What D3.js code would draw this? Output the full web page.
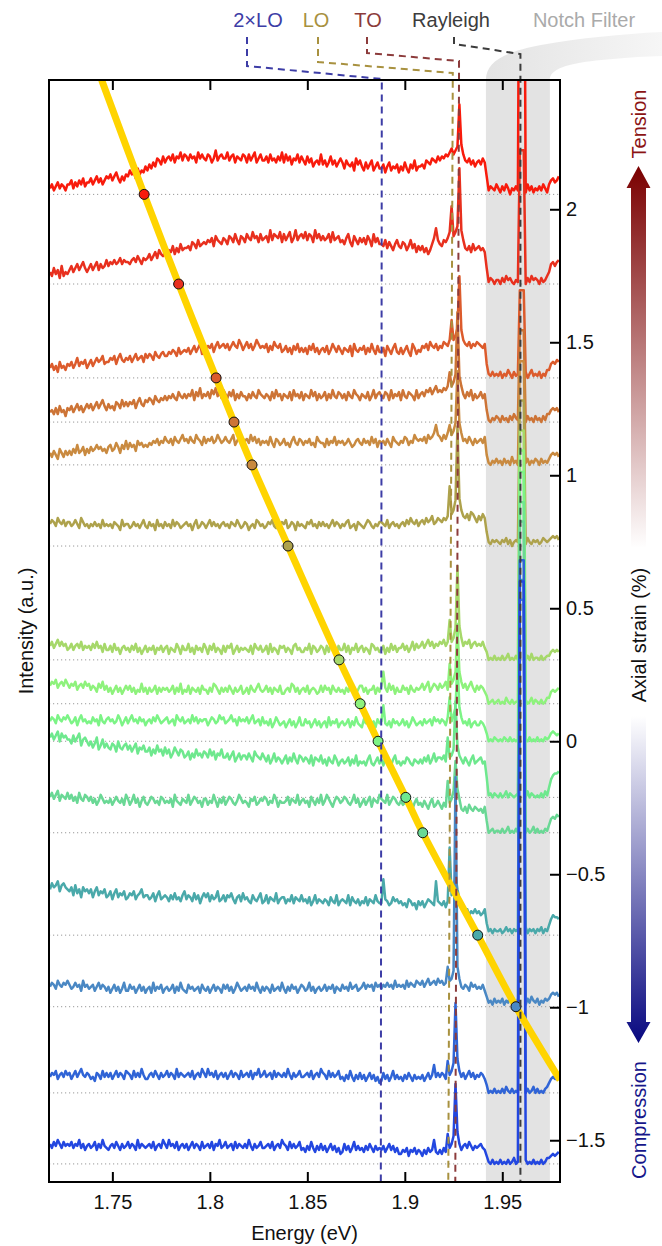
<!DOCTYPE html>
<html>
<head>
<meta charset="utf-8">
<title>Strain-tuned spectra</title>
<script src="https://cdn.jsdelivr.net/npm/d3@7/dist/d3.min.js"></script>
<style>
  body { margin: 0; background: #fff; }
  svg { display: block; font-family: "Liberation Sans", Arial, Helvetica, sans-serif; }
</style>
</head>
<body>
<svg width="662" height="1246"></svg>
<script>
// ---------- data ----------
var energyDomain = [1.7175, 1.9796];   // eV, left/right frame
var strainDomain = [-1.657, 2.486];    // %, bottom/top frame
var energyTicks = [1.75, 1.8, 1.85, 1.9, 1.95];
var strainTicks = [-1.5, -1, -0.5, 0, 0.5, 1, 1.5, 2];

var energyStart = 1.718;   // first sample of every spectrum
var energyStep = 0.001;    // eV between samples
var levelUnit = 0.0075;    // one level (base-36 char) of a spectrum, in axis units

// baseline of each spectrum = its axial strain
var strainOffsets = [2.056, 1.719, 1.366, 1.200, 1.039, 0.734, 0.306, 0.141, 0.000,
  -0.211, -0.344, -0.729, -0.998, -1.322, -1.589];
var spectrumColors = ["#f81b0c", "#e8301e", "#dc5b2c", "#cd7436", "#c98a40", "#aea24c",
  "#a6d86a", "#8ef27c", "#7cf486", "#6ee88e", "#6ad895", "#4aa9aa", "#4a88c4", "#3064d6", "#2347e0"];

// continuum + noise, one char per sample (groups of 10 samples = 0.01 eV)
var spectra = [
  "3524635425 5736475846 6857968579 8a79b8697a 9cab8dacbe cfdgeihfjg ijhkgjilhk jhkijgliki hkjgimhjki ilhjkgjihk jgkhjlgikh hjgkhigjhl gkhjfihkgj hfjgieghfk fhegjfhegi gdhfegcifh ecgdfhcegd dfbegcedfb ecgdbfdhce efdhgfihgj hjikjlnkmo upkhgifheg hfig924325 3142530324 2zz3152413 2425315786 79",
  "6485739465 7968a79b86 8a79b7a89c 9bacabdacb bacdbecadc dfcegdhfeg fhgjfigkhi ijhlkimjkl kmlnjomlkn mkonlpmkon lpnmqnolpm nolrmponql pmoqlnrmop nqmpolrnpm omnplqmnol mknpljomkn lnkomjplnk kjmiljhkmj ilkhjmikgj hjgifhknsm kjmlnqtoqt zrmihjgkhi jhig813202 2031423102 1zz2031423 2031246ab9 bc",
  "5746385647 6857a68795 7968a89b78 8a9b7ac98a 9b8ac9ab8c acb9dbacdb bdcedbfcde dfcegdfhce egfhdgifgh fhegigfjhe gifhegjhfg fhdgeigfhd egdfcgehdf dfcgehdfce fdgcehfdge cfedgbhedf egcfdhecgd dfbgecfhdc fcegdbhfce dgfheigfhe gfihgjsjlp zojhgifhgi hgfh721312 1302142031 2zz1302412 1302144787 98",
  "5647485637 6857968579 7968a79b86 9786a97b8a 8a9b7ac98b acb9dbacbd bdcecbfdce cedgbfdhce dfcgehdfcg ecfdgbecfd dbecfdcged cedbfcgdeb edcfbgdecf bedcgdfbec dfbecgdcfe cebfdcgedb edcfbdgcef dcfebgcedf bgdcfedbgc efdgfhegif gfhgiqikoz niecfdgbec dfce610213 2031203142 1zz2031203 1203144676 75",
  "6475386475 7586a67958 6978a89786 9a78b96a8c 8b9a7cab9a 9bacbdacbe cbdaecbdfc dbecbfdcae bdcebcfdbc ecbdfacebd cdbfcebdac bcaeb9dcab dab9cebadc acbdab9ecb b9dacbeacb cabdb9acdb adbcaebd9c bcadb9ecba cbedacbfdc dcebfdegkf ecfdgofhlx lgcdbecadb cdbe510213 1203120412 0zz2130213 2031213565 64",
  "bdcaecbdac cabdb9ecab 9bacab9dab ab9cba8dab b9acab9bda 9cab8dab9c ab9dacb9ab cab8bd9acb 9bdacab9bc ab9cbadb9a cb8ab9dcab 9acbda9bac bd9acb8cab a9cbdab9ca cab9bdacb9 bacd9ab8cb a9bdca9bac cbad9bcab9 bcadbecbda cdbecdfbce dcedfwginz oifegdhgec fdge721323 2132413023 2zz3142132 3124323454 53",
  "7968a79785 6857869576 7586967485 5748563675 6475846357 4657365746 7365486375 5846375648 6375846537 4768357465 6547386574 5738465376 7465378564 4658376457 6374856375 5847365846 7465387564 5736485746 6857469586 7968a79687 98a79k9bgz hb798a6897 8796401020 1020130102 0zz1020301 1020122454 54",
  "9bac8ab9ca 8a9b79a8b9 a7986a8b79 6857968579 7968576a68 5867958687 8679586a57 6958768597 7586a97586 8697586795 6859768a76 7968587695 5786a96857 8695787569 6978597686 7586968579 9685779586 9g86a79586 6978597687 8a79b68a97 a89b7kacgz gb8a79b869 7986401201 2010310201 1zz0201302 1020133676 78",
  "acb9dbacbd b9ac8bdab9 a9cab8da9b cab9adb8ac 9bdab9cab8 ab9cadb9ab c9ab8dbac9 ab9dac9bab b8acb9adbc 9abdab8cab ac9bd9ab8c 9a8b79ca89 a79b8a79c8 8b9a79b8a7 9a7c8a9b79 a89b7a8c98 7b9a89a7b9 ai98a7b9a8 9b8a79ca89 a8b9ab8cab 9ba8cmadhz hc9a8b79a8 8a97401021 0102102010 1zz0102010 2010212454 34",
  "uwtvxswuvt trvsuwqtus qspruoqtpr porqnspoqr oqnprmpoqn nplomqnolp mokmpnlonk lnjmkolmkn mkolnjmlok kmjlnikmjl ljmkinlkjm kilhjmikjh jlhkimjhlk ikjhlgkjil hjgkihljgi jhikgjhlgi higjlhgikh jgkhigjlhi gihkjhgjih jhkilhjmik kjlitklozq ljhkigjlhi jkhia12021 0201302101 2zz1030210 10203159bc cd",
  "ikhjlgjihk hjgifkhgji gifhegjhfg fhegigfhej hegjfhdgif egihfgeihf gfhdjgfehg fjegihfgdh hegfjgdhfi egihfegjhf gfdhgiefhg ihegfjhdgf fgiehgfjeg hfgdigehfj egjhfdgihf gihfegjfhd fhegidhgfj hgfjegihfe gefhdgcfhe fdgecfhdeg ecfdqfhlzm hcbdaecbdc bcad601201 1020130102 0zz1020130 2010214787 98",
  "nqoprmpqon mokplnjomn lnjmokmlnj kmilnjlkmi jlkmiklnjk kijlhkmijk jhkilijhkm ikjhlikgjl jlhkijmhik hkjligjkhl ijhgkihjlg hkgjihlgij jgihkgjihk higjfhkgih gihfjhgkfh ihgkfjhgif hgjfihgkhg gsihfgjhig hfgeihfgdh fhegihgfrh gfhehzkmzn iecbdacbdb cabd623132 2312423132 3zz2413231 32413258a9 98",
  "acb9dbacbd b9acab8dab 9ab8ac9ba8 a79b8a79c8 8b9a79b8a7 9a7c8a9b79 a89b7a8c98 7b9a89a7b9 8a79b8a97b 9b8a79ca89 a8b9a8c97a 8a97b89a8c 97a8b9a79b a89c8a79a8 9b8a9b7a98 b9a8c9ab89 ac9bab8cab 9bacab9dab ab9dacbadc bdacebcdbe cdbckdeizk ea9ba8cab9 a9b8523142 3241325231 4zz3142532 4132434676 75",
  "8a9b79a8b9 a79b8ac98a 9786a97b8a 8a79b8a97b a97b8a8c97 79a8b97a89 b8a97c8a98 9a8b79a8ca 8c9a8b79a8 a79b8a97b8 9a8b7a9c89 b89a7b8a98 a8c97a89b8 89a8b79a8c a97b8a89b7 8697b8697a 7968a79685 6a7968b797 8697a86978 7968a79e8a 8a97i9bfzh b8a79b8a79 8a97401020 1020310201 0zz1020130 2010235787 78",
  "a8b9ca8b9a 9b8a9c8a79 a89b7a8c98 79a8b97a89 b8a97c8a98 9a8b79a8ca 8c9a8b79a8 a79b8a97b8 9a8b7a9c89 b89a7b8a98 a8c97a89b8 89a8b79a8c a97b8a89b7 8697b8697a 7968a79685 6a7968b797 8697a86978 7968a79685 5768476857 6475867c65 7586h8aezg a79a8b9798 9a87410201 0201020130 1zz0201020 1020133454 56"
];

// sharp lines, heights in levels
var loEnergy = [1.924, 1.924, 1.924, 1.923, 1.923, 1.923, 1.923, 1.923, 1.923, 1.922, 1.922, 1.923, 1.922, 1.922, 1.922];
var loLevel = [23, 39, 29, 25, 20, 30, 20, 20, 22, 30, 26, 44, 20, 16, 15];
var toEnergy = [1.928, 1.928, 1.928, 1.927, 1.927, 1.927, 1.927, 1.927, 1.927, 1.926, 1.926, 1.926, 1.926, 1.926, 1.926];
var toLevel = [45, 58, 51, 55, 47, 60, 47, 40, 40, 48, 36, 30, 115, 45, 40];
var rayleighEnergy = [1.959, 1.960, 1.961];
var rayleighLevel = [200, 67, 44, 46, 52, 73, 115, 127, 135, 148, 156, 178, 204, 267, 292];

// exciton energy of spectra 1-13 (yellow trace), plus where the trace leaves the frame
var excitonEnergy = [1.7663, 1.7840, 1.8032, 1.8124, 1.8216, 1.8401, 1.8663, 1.8771, 1.8863, 1.9005, 1.9092, 1.9374, 1.9570];
var traceStart = [1.7445, 2.486];
var traceEnd = [1.9796, -1.273];

var notchBand = [1.9416, 1.9744];

var phononNames = ["2\u00d7LO", "LO", "TO", "Rayleigh"];
var phononColors = ["#3d3da6", "#a8913f", "#8c3b3b", "#3c3c3c"];
var phononTopEnergy = [1.8882, 1.9246, 1.9278, 1.9593];
var phononBottomEnergy = [1.8877, 1.9223, 1.9259, 1.9593];

// ---------- layout ----------
var W = 662, H = 1246;
var plot = {left: 49, right: 560, top: 80, bottom: 1182};
var labelY = 27;
var labelX = [258, 316, 368, 451];
var leaderX = [247, 318, 367, 454];
var leaderBend = [[66, 79], [62, 73], [53, 61], [44, 54]];

var svg = d3.select("svg");
var defs = svg.append("defs");

var x = d3.scaleLinear().domain(energyDomain).range([plot.left, plot.right]);
var y = d3.scaleLinear().domain(strainDomain).range([plot.bottom, plot.top]);

defs.append("clipPath").attr("id", "plot-clip")
  .append("rect")
  .attr("x", plot.left).attr("y", plot.top)
  .attr("width", plot.right - plot.left).attr("height", plot.bottom - plot.top);

// notch filter band + swoosh to its label
var xl = x(notchBand[0]), xr = x(notchBand[1]);
svg.append("rect")
  .attr("x", xl).attr("y", plot.top)
  .attr("width", xr - xl).attr("height", plot.bottom - plot.top)
  .attr("fill", "#e3e3e3");

var fade = defs.append("linearGradient").attr("id", "notch-fade")
  .attr("gradientUnits", "userSpaceOnUse")
  .attr("x1", xl).attr("x2", W).attr("y1", 0).attr("y2", 0);
fade.append("stop").attr("offset", 0).attr("stop-color", "#e3e3e3");
fade.append("stop").attr("offset", 1).attr("stop-color", "#f6f6f6");

svg.append("path")
  .attr("d", "M" + xl + "," + plot.top +
    " C" + xl + ",62 " + (xl + 18) + ",52 " + (xl + 55) + ",45" +
    " C" + (xl + 95) + ",38 " + (xl + 135) + ",34 " + W + ",32" +
    " L" + W + ",56" +
    " C630,57 592,60 574,64" +
    " C" + (xr + 6) + ",68 " + xr + ",73 " + xr + "," + plot.top + " Z")
  .attr("fill", "url(#notch-fade)");

var plotG = svg.append("g").attr("clip-path", "url(#plot-clip)");

// dotted baselines
plotG.selectAll("line.base")
  .data(strainOffsets)
  .enter().append("line")
  .attr("class", "base")
  .attr("x1", plot.left).attr("x2", plot.right)
  .attr("y1", function(d) { return y(d); })
  .attr("y2", function(d) { return y(d); })
  .attr("stroke", "#999")
  .attr("stroke-width", 1)
  .attr("stroke-dasharray", "1.2,2.8");

function sampleIndex(e) {
  return Math.round((e - energyStart) / energyStep);
}

function spectrumPoints(i) {
  var levels = [];
  spectra[i].split(" ").forEach(function(group, k) {
    group.split("").forEach(function(ch, j) {
      levels[k * 10 + j] = parseInt(ch, 36);
    });
  });
  levels[sampleIndex(loEnergy[i])] = loLevel[i];
  levels[sampleIndex(toEnergy[i])] = toLevel[i];
  rayleighEnergy.forEach(function(e) { levels[sampleIndex(e)] = rayleighLevel[i]; });
  return levels.map(function(v, n) {
    return [energyStart + n * energyStep, strainOffsets[i] + v * levelUnit];
  });
}

var line = d3.line()
  .x(function(d) { return x(d[0]); })
  .y(function(d) { return y(d[1]); });

plotG.selectAll("path.spectrum")
  .data(d3.range(spectra.length))
  .enter().append("path")
  .attr("class", "spectrum")
  .attr("d", function(i) { return line(spectrumPoints(i)); })
  .attr("fill", "none")
  .attr("stroke", function(i) { return spectrumColors[i]; })
  .attr("stroke-width", 2.5)
  .attr("stroke-linejoin", "round");

// phonon / Rayleigh guide lines with their leaders
svg.selectAll("path.guide")
  .data(phononNames)
  .enter().append("path")
  .attr("class", "guide")
  .attr("d", function(d, i) {
    var xt = x(phononTopEnergy[i]), xb = x(phononBottomEnergy[i]);
    return "M" + leaderX[i] + ",37 V" + leaderBend[i][0] +
      " L" + xt + "," + leaderBend[i][1] +
      " L" + xt + "," + plot.top +
      " L" + xb + "," + plot.bottom;
  })
  .attr("fill", "none")
  .attr("stroke", function(d, i) { return phononColors[i]; })
  .attr("stroke-width", 2)
  .attr("stroke-dasharray", "7,5");

// exciton trace
var trace = [traceStart].concat(excitonEnergy.map(function(e, i) {
  return [e, strainOffsets[i]];
})).concat([traceEnd]);

plotG.append("path")
  .attr("d", d3.line()
    .x(function(d) { return x(d[0]); })
    .y(function(d) { return y(d[1]); })
    .curve(d3.curveCatmullRom.alpha(0.5))(trace))
  .attr("fill", "none")
  .attr("stroke", "#ffd400")
  .attr("stroke-width", 7);

plotG.selectAll("circle.peak")
  .data(excitonEnergy)
  .enter().append("circle")
  .attr("class", "peak")
  .attr("cx", function(d) { return x(d); })
  .attr("cy", function(d, i) { return y(strainOffsets[i]); })
  .attr("r", 5)
  .attr("fill", function(d, i) { return spectrumColors[i]; })
  .attr("stroke", "#111")
  .attr("stroke-width", 1);

// frame and axes
svg.append("rect")
  .attr("x", plot.left).attr("y", plot.top)
  .attr("width", plot.right - plot.left).attr("height", plot.bottom - plot.top)
  .attr("fill", "none").attr("stroke", "#000").attr("stroke-width", 2);

function styleAxis(g) {
  g.select(".domain").remove();
  g.attr("font-size", 20).attr("font-family", null);
  g.selectAll(".tick line").attr("stroke-width", 2);
  g.selectAll(".tick text").attr("fill", "#111");
}

svg.append("g")
  .attr("transform", "translate(0," + plot.bottom + ")")
  .call(d3.axisBottom(x).tickValues(energyTicks)
    .tickSizeInner(-10).tickSizeOuter(0).tickPadding(13)
    .tickFormat(function(d) { return String(d); }))
  .call(styleAxis);

svg.append("g")
  .attr("transform", "translate(0," + plot.top + ")")
  .call(d3.axisTop(x).tickValues(energyTicks)
    .tickSizeInner(-10).tickSizeOuter(0).tickFormat(""))
  .call(styleAxis);

svg.append("g")
  .attr("transform", "translate(" + plot.right + ",0)")
  .call(d3.axisRight(y).tickValues(strainTicks)
    .tickSizeInner(-10).tickSizeOuter(0).tickPadding(6)
    .tickFormat(function(d) { return d < 0 ? "\u2212" + Math.abs(d) : String(d); }))
  .call(styleAxis);

svg.append("text")
  .attr("x", (plot.left + plot.right) / 2).attr("y", 1240)
  .attr("text-anchor", "middle").attr("font-size", 20).attr("fill", "#111")
  .text("Energy (eV)");

svg.append("text")
  .attr("transform", "translate(33," + ((plot.top + plot.bottom) / 2) + ") rotate(-90)")
  .attr("text-anchor", "middle").attr("font-size", 20).attr("fill", "#111")
  .text("Intensity (a.u.)");

// top labels
svg.selectAll("text.phonon")
  .data(phononNames)
  .enter().append("text")
  .attr("class", "phonon")
  .attr("x", function(d, i) { return labelX[i]; })
  .attr("y", labelY)
  .attr("text-anchor", "middle").attr("font-size", 20)
  .attr("fill", function(d, i) { return phononColors[i]; })
  .text(function(d) { return d; });

svg.append("text")
  .attr("x", 584).attr("y", labelY)
  .attr("text-anchor", "middle").attr("font-size", 20)
  .attr("fill", "#aaaaaa")
  .text("Notch Filter");

// strain colour arrows
var arrowX = 638.5;
function arrowGradient(id, y1, y2, c1, c2) {
  var g = defs.append("linearGradient").attr("id", id)
    .attr("gradientUnits", "userSpaceOnUse")
    .attr("x1", 0).attr("x2", 0).attr("y1", y1).attr("y2", y2);
  g.append("stop").attr("offset", 0).attr("stop-color", c1);
  g.append("stop").attr("offset", 1).attr("stop-color", c2);
}
arrowGradient("tension-grad", 166, 548, "#7a0000", "#ffffff");
arrowGradient("compress-grad", 716, 1043, "#ffffff", "#080880");

function arrowPath(tipY, baseY, tailY) {
  var hw = 12, sw = 7.5;
  return "M" + arrowX + "," + tipY +
    " L" + (arrowX + hw) + "," + baseY +
    " L" + (arrowX + sw) + "," + baseY +
    " L" + (arrowX + sw) + "," + tailY +
    " L" + (arrowX - sw) + "," + tailY +
    " L" + (arrowX - sw) + "," + baseY +
    " L" + (arrowX - hw) + "," + baseY + " Z";
}
svg.append("path").attr("d", arrowPath(166, 188, 548)).attr("fill", "url(#tension-grad)");
svg.append("path").attr("d", arrowPath(1043, 1022, 716)).attr("fill", "url(#compress-grad)");

function sideText(cy, txt, color) {
  svg.append("text")
    .attr("transform", "translate(646," + cy + ") rotate(-90)")
    .attr("text-anchor", "middle").attr("font-size", 20)
    .attr("fill", color)
    .text(txt);
}
sideText(124, "Tension", "#8b1414");
sideText(635, "Axial strain (%)", "#111");
sideText(1120, "Compression", "#16168a");
</script>
</body>
</html>
